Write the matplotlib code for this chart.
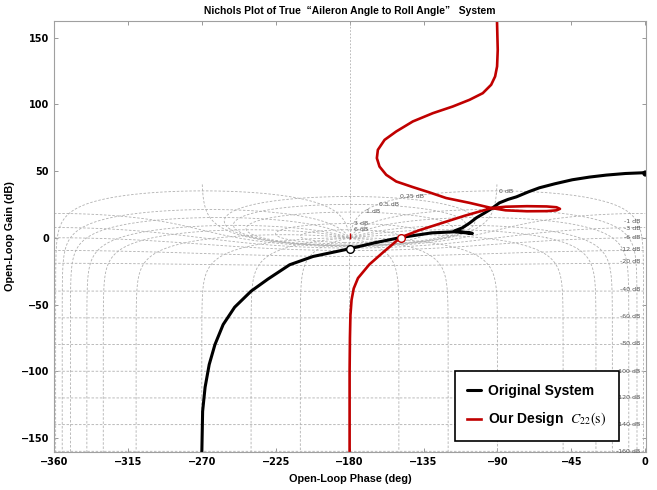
import numpy as np
import matplotlib
matplotlib.use('Agg')
import matplotlib.pyplot as plt

# Open-loop responses (phase in deg, gain in dB), low frequency first
orig_phase = [0, -12.0, -23.7, -34.0, -44.4, -55.0, -64.4, -71.0, -78.4, -83.5,
              -88.8, -93.6, -98.0, -102.8, -107.0, -111.3, -116.1,
              -105.2, -116.0, -130.0, -149.0, -165.0, -180.0, -202.3, -216.5, -229.7,
              -240.0, -250.0, -257.0, -262.0, -265.5, -268.0, -269.5, -270.0]
orig_gain = [48.8, 48.2, 47.0, 45.5, 43.5, 40.5, 37.5, 34.5, 30.7, 28.8,
             26.2, 21.8, 18.5, 15.0, 11.0, 7.5, 5.2,
             3.3, 4.5, 3.7, 0.2, -3.8, -8.2, -14.0, -20.2, -30.9,
             -40.0, -52.0, -65.0, -80.0, -95.0, -112.0, -130.0, -162.0]

design_phase = [-90.3, -89.8, -90.2, -91.4, -93.8, -98.9, -107.0, -117.2, -129.3,
                -141.5, -151.6, -158.7, -162.8, -163.4, -161.8, -157.7, -151.6,
                -141.5, -131.3, -121.2, -107.0, -93.5,
                -85.0, -72.0, -60.0, -54.0, -51.9, -54.0, -60.0, -72.0, -85.0, -93.5,
                -110.0, -125.3, -138.0, -149.0, -159.9, -168.0, -174.9, -177.5,
                -178.8, -179.5, -179.8, -180.0, -180.0]
design_gain = [165.0, 140.9, 128.4, 120.9, 114.7, 108.4, 103.4, 98.4, 93.4,
               87.2, 79.7, 73.4, 65.9, 59.7, 53.4, 47.2, 42.2,
               38.0, 34.0, 29.8, 26.2, 22.3,
               20.6, 19.9, 20.0, 20.6, 21.7, 22.9, 23.5, 23.7, 23.3, 22.3,
               16.5, 10.5, 5.5, 0.2, -11.2, -20.0, -30.2, -38.0,
               -46.5, -58.0, -75.0, -100.0, -162.0]

# Marked points on each response
orig_mark = (-180.0, -8.2)
design_mark = (-149.0, 0.2)

# Nichols chart levels
cl_gain_levels = [-160, -140, -120, -100, -80, -60, -40, -20, -12, -6, -3, -1,
                  0, 0.25, 0.5, 1, 3, 6]
cl_phase_levels = [-359, -355, -350, -340, -330, -310, -270, -240, -210, -180,
                   -150, -120, -90, -50, -30, -20, -10, -5, -1]

# contour labels: text, phase, gain
grid_labels = [('0 dB', -85, 35), ('0.25 dB', -142, 31), ('0.5 dB', -156, 25),
               ('1 dB', -166, 19.5), ('3 dB', -173, 11), ('6 dB', -173, 6)]
side_labels = [('-1 dB', 12), ('-3 dB', 7), ('-6 dB', 0), ('-12 dB', -9),
               ('-20 dB', -18), ('-40 dB', -39), ('-60 dB', -59), ('-80 dB', -79),
               ('-100 dB', -100), ('-120 dB', -120), ('-140 dB', -140), ('-160 dB', -160)]

plt.rcParams['mathtext.fontset'] = 'stix'
sans = ['Liberation Sans', 'DejaVu Sans']

fig = plt.figure(figsize=(6.57, 4.9), dpi=100)
ax = fig.add_axes([0.0822, 0.0776, 0.9011, 0.8796])

#%% Nichols grid

ph = np.linspace(-360, 0, 1441)
gn = np.linspace(-166, 40, 825)
P, Gdb = np.meshgrid(ph, gn)
G = 10**(Gdb/20)*np.exp(1j*np.deg2rad(P))
with np.errstate(all='ignore'):
    T = G/(1+G)
    T_db = 20*np.log10(np.abs(T))
T_ph = P - np.rad2deg(np.angle(1+G))
T_ph[(np.abs(P+180) < 0.6) & (Gdb > 0)] = np.nan

grid_col = '#b0b0b0'
ax.contour(P, Gdb, T_db, levels=cl_gain_levels, colors=grid_col,
           linewidths=0.6, linestyles=[(0, (3, 2))])
ax.contour(P, Gdb, T_ph, levels=cl_phase_levels, colors=grid_col,
           linewidths=0.6, linestyles=[(0, (3, 2))])
ax.plot([-180, -180], [0, 165], color=grid_col, lw=0.6, ls=(0, (2, 2)))

for txt, x, y in grid_labels:
    ax.text(x, y, txt, fontsize=4.5, color='#555555', ha='center', va='center')
for txt, y in side_labels:
    ax.text(-3, y, txt, fontsize=4.5, color='#555555', ha='right', va='center')

#%% Responses

ax.plot(orig_phase, orig_gain, '-', color='black', lw=2.2, solid_joinstyle='round',
        solid_capstyle='round', label='Original System')
ax.plot(design_phase, design_gain, '-', color='#c00000', lw=1.9, solid_joinstyle='round',
        label=r'Our Design  $C_{22}(\mathrm{s})$')
ax.plot(orig_phase[0], orig_gain[0], 'o', color='black', markersize=3.5)
ax.plot(*orig_mark, 'o', mfc='white', mec='black', mew=1.0, markersize=5.5)
ax.plot(*design_mark, 'o', mfc='white', mec='#c00000', mew=1.0, markersize=5.5)
ax.plot(-180, 1.5, '|', color='#c00000', markersize=5, mew=1.0)

#%% Axes

ax.set_xlim(-360, 0.5)
ax.set_ylim(-160.5, 162.5)
ax.set_xticks(np.arange(-360, 1, 45))
ax.set_yticks(np.arange(-150, 151, 50))
ax.tick_params(direction='in', top=True, right=True, length=3, width=0.6,
               color='#888888', labelsize=7)
for lab in ax.get_xticklabels() + ax.get_yticklabels():
    lab.set_fontweight('bold')
for s in ax.spines.values():
    s.set_color('#a0a0a0')
    s.set_linewidth(0.8)

ax.set_xlabel('Open-Loop Phase (deg)', fontsize=7.8, fontweight='bold', labelpad=5,
              family=sans)
ax.set_ylabel('Open-Loop Gain (dB)', fontsize=7.8, fontweight='bold', labelpad=4,
              family=sans)
ax.set_title('Nichols Plot of True  \u201cAileron Angle to Roll Angle\u201d   System',
             fontsize=7.4, fontweight='bold', pad=5, family=sans)

leg = ax.legend(loc='lower right', bbox_to_anchor=(0.954, 0.0255), borderaxespad=0,
                fancybox=False, edgecolor='black', framealpha=1, handlelength=1.0,
                handletextpad=0.5, borderpad=0.9, labelspacing=0.9,
                prop={'weight': 'bold', 'size': 10, 'family': 'Liberation Sans'})
leg.get_frame().set_linewidth(1.2)

plt.savefig('out.png', dpi=100)
